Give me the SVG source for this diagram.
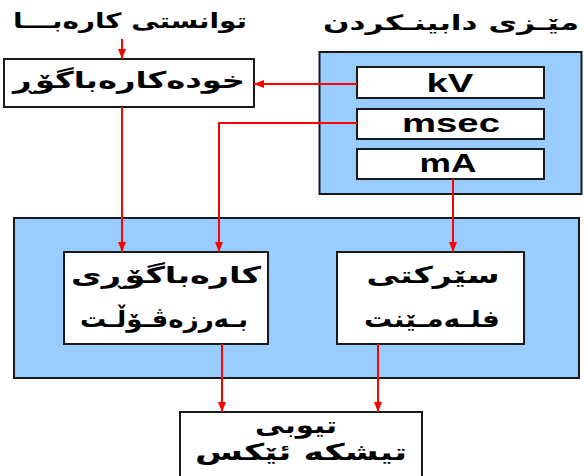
<svg xmlns="http://www.w3.org/2000/svg" width="585" height="476" viewBox="0 0 585 476">
<defs>
<marker id="ah" markerUnits="userSpaceOnUse" markerWidth="10" markerHeight="10" viewBox="0 0 10 10" refX="10" refY="5" orient="auto">
<path d="M0,1 L10,5 L0,9 Z" fill="#ff0000"/>
</marker>
<style>
.panel{fill:#99ccff;stroke:#1a1a1a;stroke-width:2}
.box{fill:#ffffff;stroke:#1a1a1a;stroke-width:2}
.ku{font-family:"DejaVu Sans",sans-serif;font-weight:bold;fill:#000;text-anchor:middle}
.en{font-family:"Liberation Sans",Arial,sans-serif;font-weight:bold;fill:#000;text-anchor:middle;font-size:25px}
.wire{fill:none;stroke:#ff0000;stroke-width:2}
.arr{fill:none;stroke:#ff0000;stroke-width:2;marker-end:url(#ah)}
</style>
</defs>
<rect width="585" height="476" fill="#ffffff"/>
<g id="title-power">
<text class="ku" x="130" y="28" font-size="21" textLength="234" lengthAdjust="spacingAndGlyphs">توانستی کارەبـــا</text>
</g>
<g id="title-control">
<text class="ku" x="451" y="30" font-size="21" textLength="256" lengthAdjust="spacingAndGlyphs">مێـزی دابینـکردن</text>
</g>
<g id="control-panel">
<rect class="panel" x="319.5" y="52" width="262" height="142"/>
</g>
<g id="kv">
<rect class="box" x="357" y="67" width="187" height="31"/>
<text class="en" x="450" y="92" textLength="47" lengthAdjust="spacingAndGlyphs">kV</text>
</g>
<g id="msec">
<rect class="box" x="357" y="109" width="187" height="30"/>
<text class="en" x="451" y="132" textLength="98" lengthAdjust="spacingAndGlyphs">msec</text>
</g>
<g id="ma">
<rect class="box" x="357" y="149" width="187" height="30"/>
<text class="en" x="448" y="172" textLength="57" lengthAdjust="spacingAndGlyphs">mA</text>
</g>
<g id="autotransformer">
<rect class="box" x="4" y="59" width="250" height="48"/>
<text class="ku" x="129" y="88" font-size="23" textLength="232" lengthAdjust="spacingAndGlyphs">خودەکارەباگۆڕ</text>
</g>
<g id="generator-panel">
<rect class="panel" x="14" y="218" width="565" height="160"/>
</g>
<g id="hv-transformer">
<rect class="box" x="64" y="252" width="204" height="92"/>
<text class="ku" x="166" y="283" font-size="23" textLength="190" lengthAdjust="spacingAndGlyphs">کارەباگۆڕی</text>
<text class="ku" x="164" y="327" font-size="23" textLength="168" lengthAdjust="spacingAndGlyphs">بـەرزەڤـۆڵـت</text>
</g>
<g id="filament-circuit">
<rect class="box" x="337" y="252" width="187" height="92"/>
<text class="ku" x="433" y="283" font-size="23" textLength="133" lengthAdjust="spacingAndGlyphs">سێرکتی</text>
<text class="ku" x="432" y="327" font-size="23" textLength="136" lengthAdjust="spacingAndGlyphs">فلـەمـێنت</text>
</g>
<g id="xray-tube">
<rect class="box" x="180" y="412" width="242" height="70"/>
<text class="ku" x="296" y="433" font-size="23" textLength="82" lengthAdjust="spacingAndGlyphs">تیوبی</text>
<text class="ku" x="301" y="460" font-size="23" textLength="212" lengthAdjust="spacingAndGlyphs">تیشکە ئێکس</text>
</g>
<g id="connectors">
<line class="arr" x1="122" y1="39" x2="122" y2="59"/>
<line class="arr" x1="357" y1="84" x2="254" y2="84"/>
<polyline class="arr" points="357,123 219,123 219,252"/>
<line class="arr" x1="122" y1="107" x2="122" y2="252"/>
<line class="arr" x1="453" y1="179" x2="453" y2="252"/>
<line class="arr" x1="222" y1="344" x2="222" y2="412"/>
<line class="arr" x1="378" y1="344" x2="378" y2="412"/>
</g>
</svg>
